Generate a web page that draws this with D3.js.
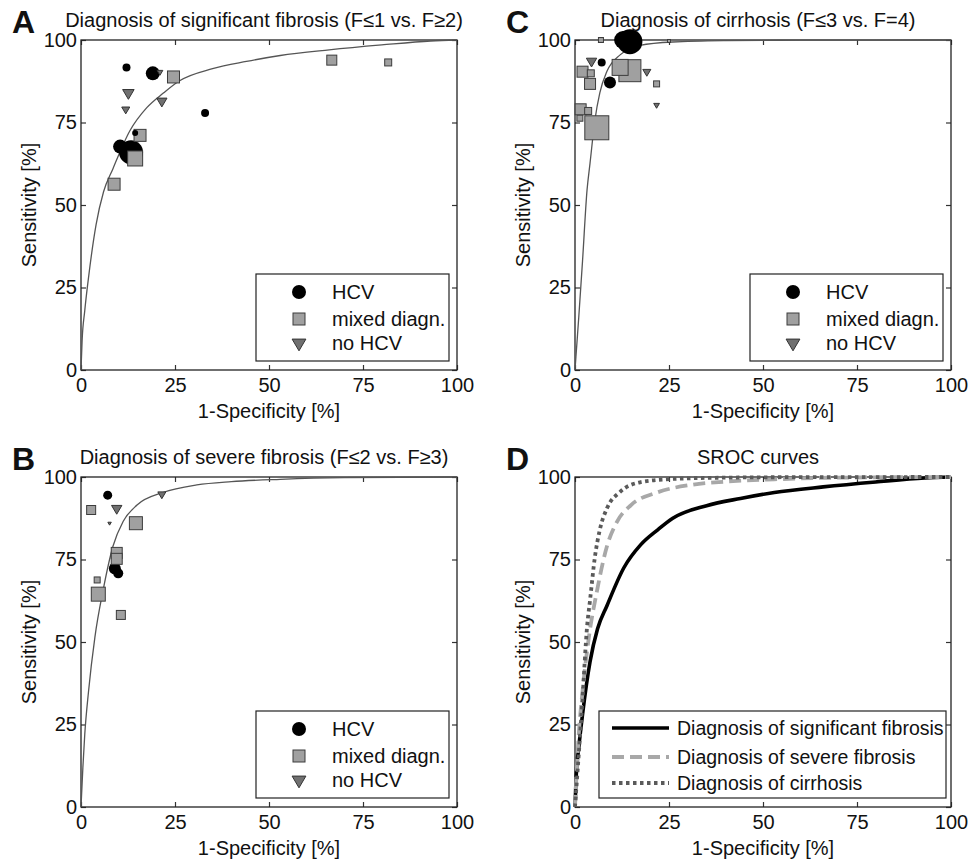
<!DOCTYPE html>
<html><head><meta charset="utf-8">
<script src="https://cdn.jsdelivr.net/npm/d3@7"></script>
<style>
body{margin:0;background:#fff}
text{font-family:"Liberation Sans",Arial,Helvetica,sans-serif;fill:#111}
</style>
</head><body>
<svg id="chart" width="971" height="862"></svg>
<script>
// ---------------- DATA ----------------
const tickValues = [0, 25, 50, 75, 100];
const tickLabels = ["0", "25", "50", "75", "100"];
const panelLetters = ["A", "B", "C", "D"];
const panelTitles = [
  "Diagnosis of significant fibrosis (F\u22641 vs. F\u22652)",
  "Diagnosis of severe fibrosis (F\u22642 vs. F\u22653)",
  "Diagnosis of cirrhosis (F\u22643 vs. F=4)",
  "SROC curves"
];
const xLabel = "1-Specificity [%]";
const yLabel = "Sensitivity [%]";
const groupNames = ["HCV", "mixed diagn.", "no HCV"];
const curveNames = ["Diagnosis of significant fibrosis", "Diagnosis of severe fibrosis", "Diagnosis of cirrhosis"];

// SROC curves: 1-specificity (%) and sensitivity (%)
const sigFibX = [0, 0.3, 1, 2, 4, 6, 8.5, 13, 17.5, 22, 26, 35, 44, 53, 66, 80, 93, 100];
const sigFibY = [0, 9, 18, 28, 44, 54, 61, 72.5, 79.5, 84, 87.5, 91.3, 93.5, 95.3, 97, 98.5, 99.7, 100];
const sevFibX = [0, 0.5, 1, 2, 3.7, 5.9, 8.5, 11.2, 14.9, 21.8, 30.8, 40, 53, 70, 100];
const sevFibY = [0, 12, 22, 35, 51.5, 65.8, 79, 86.5, 91.5, 95.3, 97.6, 98.6, 99.3, 99.8, 100];
const cirrX = [0, 0.5, 1, 2, 3.2, 4, 5.3, 6.6, 8.5, 12, 17.3, 26, 40, 60, 100];
const cirrY = [0, 8, 16, 33, 54.5, 62.7, 75.8, 84, 90.5, 95.5, 98.4, 99.4, 99.8, 99.95, 100];

// Studies: [1-specificity %, sensitivity %, weight]
const sigHCV   = [[12.1, 91.7, 64], [19.1, 89.9, 196], [33, 77.9, 64], [14.4, 71.8, 36], [10.4, 67.7, 196], [13.3, 66, 576]];
const sigMixed = [[24.6, 88.8, 144], [15.7, 71.1, 144], [14.4, 64.1, 225], [8.8, 56.3, 144], [66.7, 93.9, 100], [81.7, 93.2, 49]];
const sigNoHCV = [[21, 90.3, 25], [12.6, 84, 100], [11.9, 79, 49], [21.5, 81.5, 81]];

const sevHCV   = [[7.1, 94.5, 81], [9.0, 72.3, 144], [9.9, 70.8, 100]];
const sevMixed = [[2.7, 90, 81], [14.6, 86, 169], [9.5, 77, 121], [9.5, 75.2, 121], [4.3, 68.8, 36], [4.6, 64.5, 196], [10.6, 58.2, 81]];
const sevNoHCV = [[9.5, 90.5, 81], [7.6, 86, 9], [21.5, 94.8, 49]];

const cirHCV   = [[12.8, 100, 324], [14.6, 99.5, 625], [7.1, 93.2, 64], [9.3, 87.1, 144]];
const cirMixed = [[6.9, 100, 25], [25, 99.7, 9], [12, 91.7, 256], [14.6, 90.7, 484], [2.0, 90.4, 121], [4.2, 89.9, 49],
                  [4, 86.7, 121], [21.7, 86.7, 36], [1.5, 79, 121], [3.5, 78.5, 49], [1.3, 76.3, 36], [5.8, 73.4, 576]];
const cirNoHCV = [[4.4, 93.6, 81], [19.1, 90.4, 49], [21.7, 80.3, 25]];

// ---------------- DRAWING ----------------
const svg = d3.select("#chart");
const W = 376, H = 330;
const FS = "20px";
const panels = [
  {left: 81,  top: 40,  letter: 0, title: 0, curve: [sigFibX, sigFibY], pts: [sigHCV, sigMixed, sigNoHCV]},
  {left: 81,  top: 477, letter: 1, title: 1, curve: [sevFibX, sevFibY], pts: [sevHCV, sevMixed, sevNoHCV]},
  {left: 575, top: 40,  letter: 2, title: 2, curve: [cirrX, cirrY],     pts: [cirHCV, cirMixed, cirNoHCV]},
  {left: 575, top: 477, letter: 3, title: 3, sroc: true}
];

const xs = d3.scaleLinear().domain([0, 100]).range([0, W]);
const ys = d3.scaleLinear().domain([0, 100]).range([H, 0]);
const sizeScale = d3.scaleSqrt().domain([0, 100]).range([0, 10]);
const line = (X, Y) => d3.line().x(i => xs(X[i])).y(i => ys(Y[i])).curve(d3.curveMonotoneX)(d3.range(X.length));

const styles = [
  {fill: "#000", stroke: "#000"},
  {fill: "#a0a0a0", stroke: "#3c3c3c"},
  {fill: "#707070", stroke: "#333"}
];
function marker(g, type, cx, cy, s) {
  if (type === 0) {
    g.append("circle").attr("cx", cx).attr("cy", cy).attr("r", s / 2)
      .attr("fill", styles[0].fill);
  } else if (type === 1) {
    g.append("rect").attr("x", cx - s / 2).attr("y", cy - s / 2).attr("width", s).attr("height", s)
      .attr("fill", styles[1].fill).attr("stroke", styles[1].stroke).attr("stroke-width", 1);
  } else {
    const w = s * 1.15, h = w * 0.85;
    g.append("path")
      .attr("d", `M${cx - w / 2},${cy - h / 3}L${cx + w / 2},${cy - h / 3}L${cx},${cy + 2 * h / 3}Z`)
      .attr("fill", styles[2].fill).attr("stroke", styles[2].stroke).attr("stroke-width", 1);
  }
}

panels.forEach(p => {
  const g = svg.append("g").attr("transform", `translate(${p.left},${p.top})`);

  // axes with inward ticks on all sides
  const fmt = (d, i) => tickLabels[i];
  const bottom = g.append("g").attr("transform", `translate(0,${H})`)
    .call(d3.axisBottom(xs).tickValues(tickValues).tickFormat(fmt).tickSizeInner(-5).tickSizeOuter(0).tickPadding(10));
  const left = g.append("g")
    .call(d3.axisLeft(ys).tickValues(tickValues).tickFormat(fmt).tickSizeInner(-5).tickSizeOuter(0).tickPadding(8));
  const top = g.append("g")
    .call(d3.axisTop(xs).tickValues(tickValues).tickFormat("").tickSizeInner(-5).tickSizeOuter(0));
  const right = g.append("g").attr("transform", `translate(${W},0)`)
    .call(d3.axisRight(ys).tickValues(tickValues).tickFormat("").tickSizeInner(-5).tickSizeOuter(0));
  [bottom, left, top, right].forEach(a => {
    a.select(".domain").remove();
    a.selectAll("line").attr("stroke", "#333").attr("stroke-width", 1.2);
    a.selectAll("text").style("font-size", FS).attr("fill", "#111")
      .style("font-family", '"Liberation Sans",Arial,sans-serif');
  });
  bottom.selectAll("text").attr("dy", "0.71em").attr("y", 8);
  left.selectAll("text").attr("x", -4);

  g.append("rect").attr("width", W).attr("height", H)
    .attr("fill", "none").attr("stroke", "#222").attr("stroke-width", 1.3);

  // labels
  svg.append("text").attr("x", p.left + W / 2 - 5).attr("y", p.top - 13)
    .attr("text-anchor", "middle").style("font-size", FS).text(panelTitles[p.title]);
  svg.append("text").attr("x", p.left - 69).attr("y", p.top - 7)
    .style("font-size", "32px").style("font-weight", "bold").attr("fill", "#000").text(panelLetters[p.letter]);
  svg.append("text").attr("x", p.left + W / 2).attr("y", p.top + H + 48)
    .attr("text-anchor", "middle").style("font-size", FS).text(xLabel);
  svg.append("text").attr("transform", `translate(${p.left - 45},${p.top + H / 2}) rotate(-90)`)
    .attr("text-anchor", "middle").style("font-size", FS).text(yLabel);

  if (!p.sroc) {
    g.append("path").attr("d", line(p.curve[0], p.curve[1]))
      .attr("fill", "none").attr("stroke", "#555").attr("stroke-width", 1.3);
    const mg = g.append("g");
    // draw larger markers first so small ones stay visible
    const all = [];
    p.pts.forEach((arr, t) => arr.forEach(d => all.push({t, d})));
    all.sort((a, b) => b.d[2] - a.d[2]);
    all.forEach(o => marker(mg, o.t, xs(o.d[0]), ys(o.d[1]), sizeScale(o.d[2])));

    // legend
    const lg = g.append("g").attr("transform", `translate(175,234)`);
    lg.append("rect").attr("width", 193).attr("height", 87).attr("fill", "#fff")
      .attr("stroke", "#222").attr("stroke-width", 1.2);
    const rows = [18, 45, 69];
    groupNames.forEach((name, i) => {
      marker(lg, i, 43, rows[i], i === 0 ? 14 : 12);
      lg.append("text").attr("x", 76).attr("y", rows[i]).attr("dy", "0.36em")
        .style("font-size", FS).text(name);
    });
  } else {
    const curves = [[sigFibX, sigFibY], [sevFibX, sevFibY], [cirrX, cirrY]];
    const cStyle = [
      {stroke: "#000", dash: null, w: 3.6},
      {stroke: "#a8a8a8", dash: "12,6", w: 3.8},
      {stroke: "#5a5a5a", dash: "3.5,3.5", w: 3.8}
    ];
    [0, 1, 2].forEach(i => {
      g.append("path").attr("d", line(curves[i][0], curves[i][1]))
        .attr("fill", "none").attr("stroke", cStyle[i].stroke).attr("stroke-width", cStyle[i].w)
        .attr("stroke-dasharray", cStyle[i].dash);
    });
    const lg = g.append("g").attr("transform", `translate(24,234)`);
    lg.append("rect").attr("width", 347).attr("height", 87).attr("fill", "#fff")
      .attr("stroke", "#222").attr("stroke-width", 1.2);
    const rows = [17, 46, 72];
    curveNames.forEach((name, i) => {
      lg.append("line").attr("x1", 13).attr("x2", 70).attr("y1", rows[i]).attr("y2", rows[i])
        .attr("stroke", cStyle[i].stroke).attr("stroke-width", cStyle[i].w).attr("stroke-dasharray", cStyle[i].dash);
      lg.append("text").attr("x", 78).attr("y", rows[i]).attr("dy", "0.36em")
        .style("font-size", "19.5px").text(name);
    });
  }
});
</script>
</body></html>
